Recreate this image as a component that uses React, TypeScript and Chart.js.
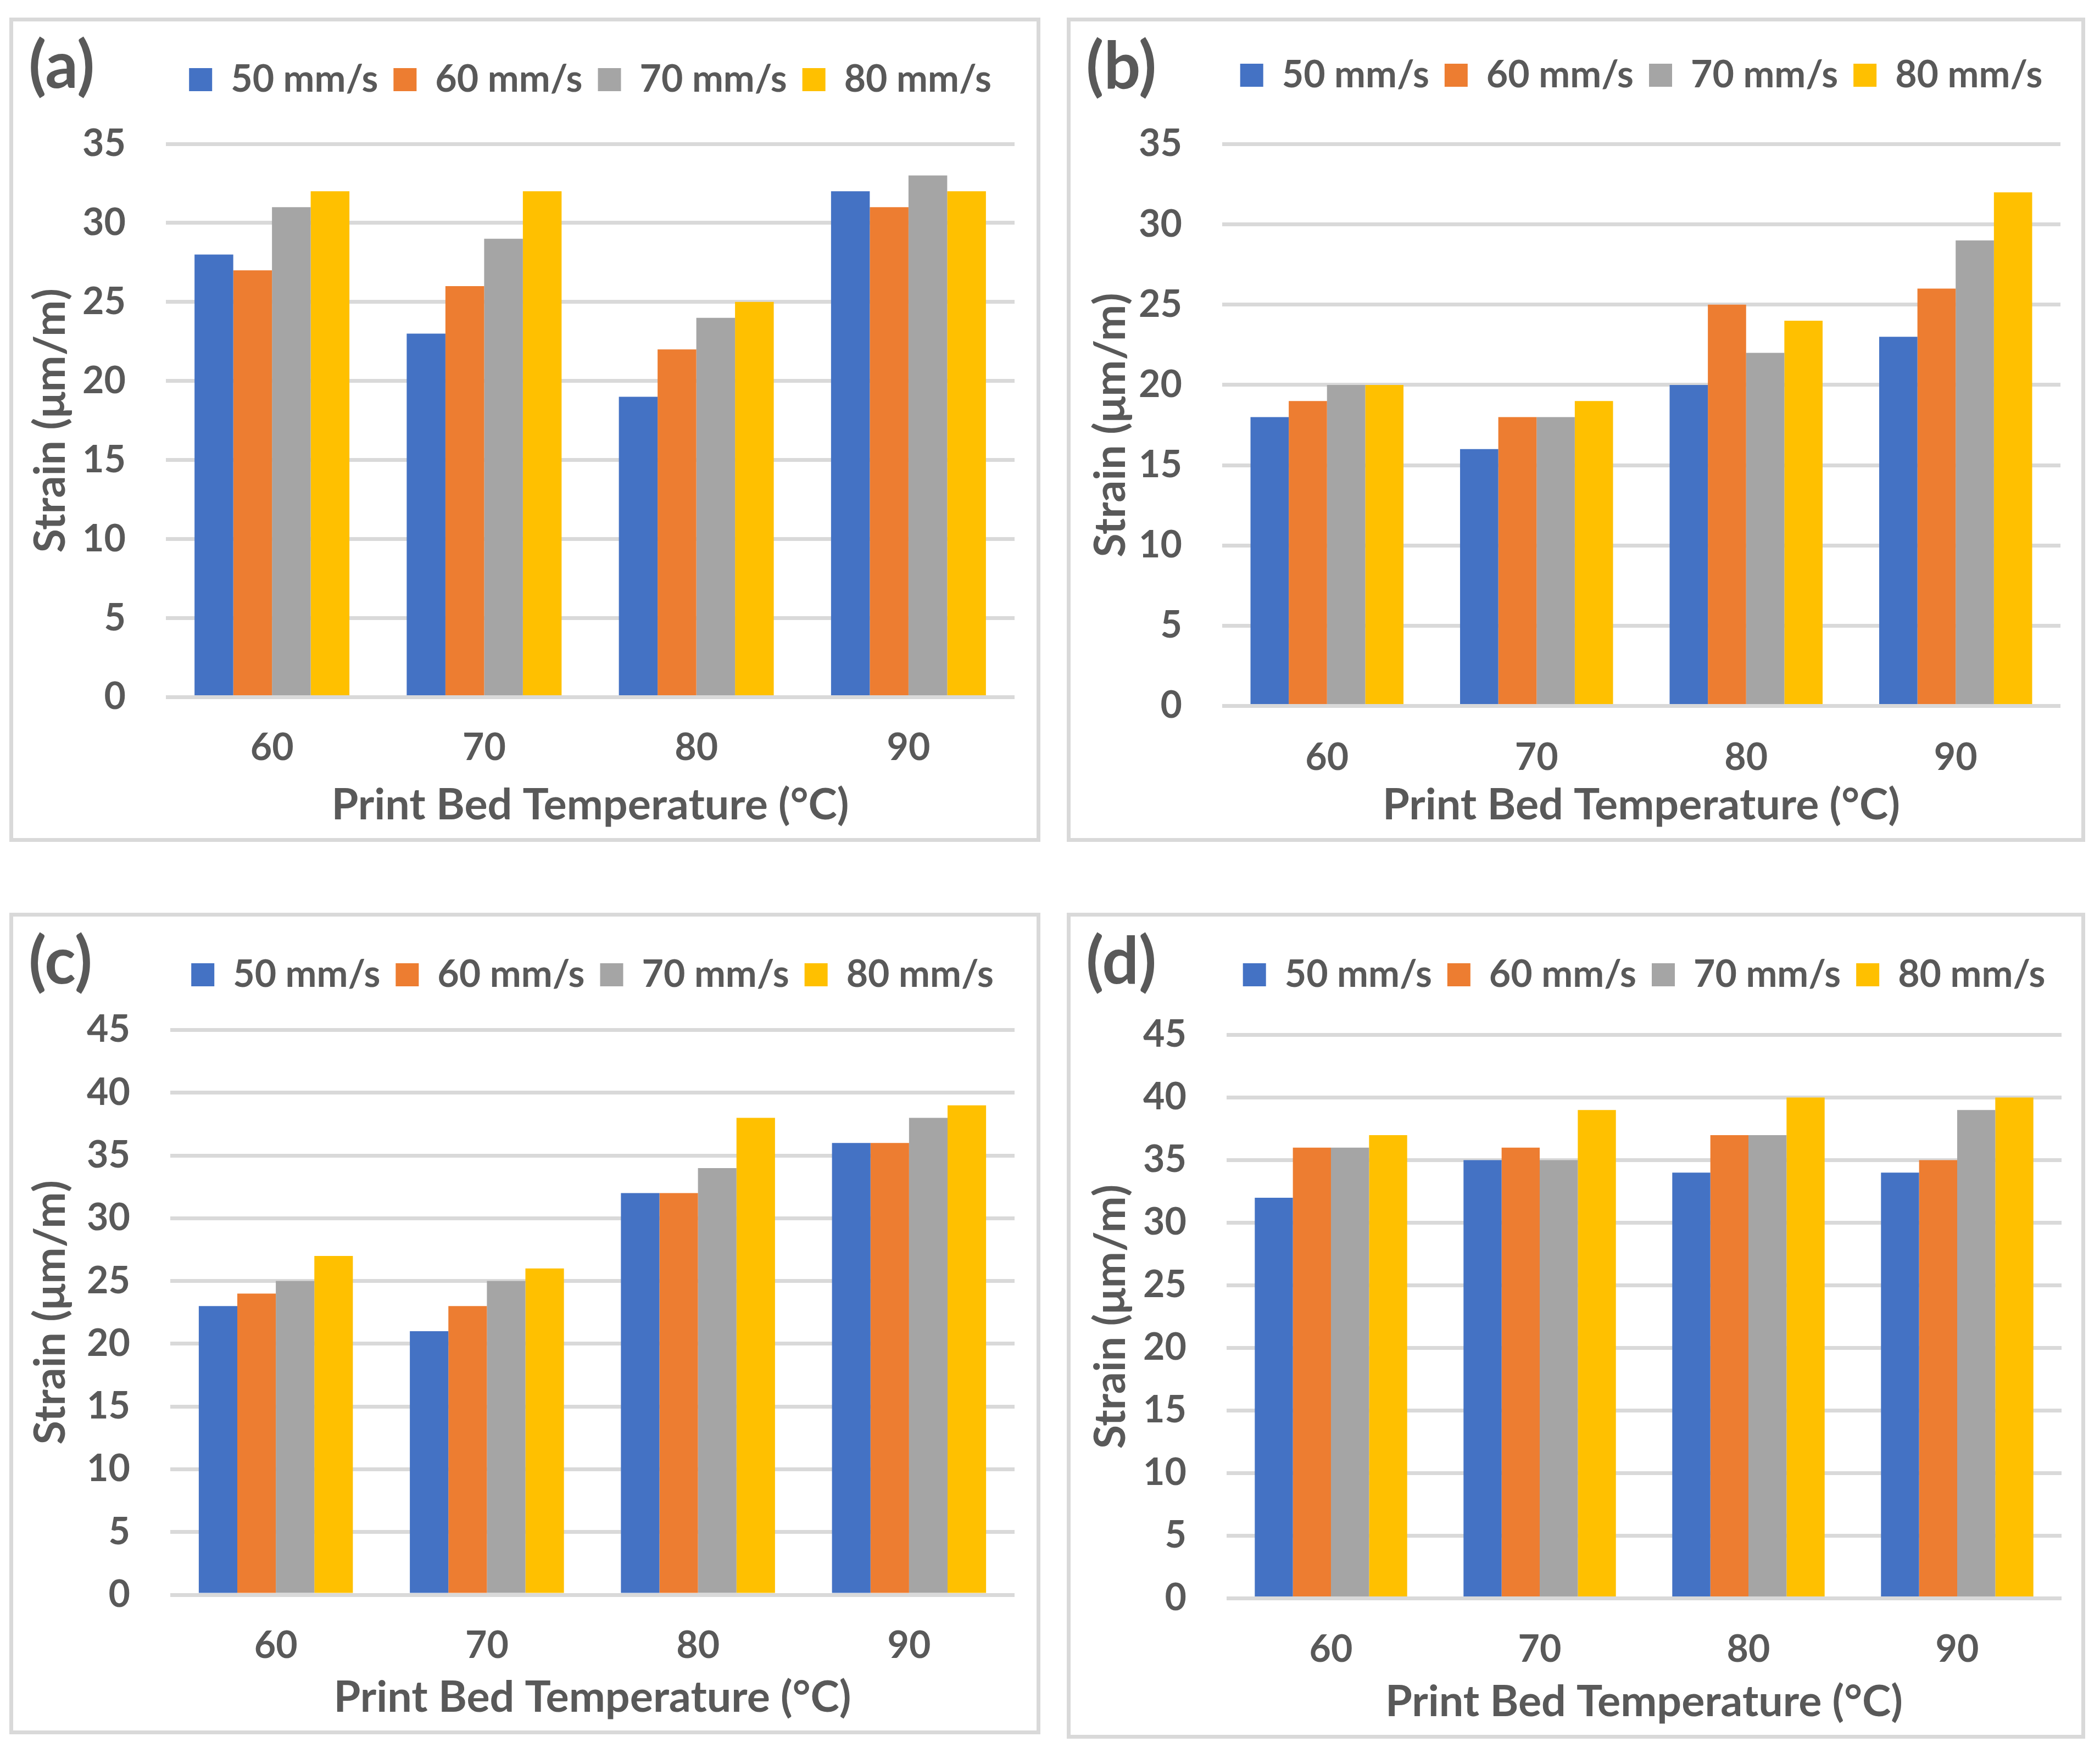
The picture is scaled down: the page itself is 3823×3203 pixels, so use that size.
import React, { useEffect, useRef } from 'react';
import { Chart, registerables } from 'chart.js';

Chart.register(...registerables);

// ---------- data ----------
const categories = ['60', '70', '80', '90'];
const seriesNames = ['50 mm/s', '60 mm/s', '70 mm/s', '80 mm/s'];
const seriesColors = ['#4472C4', '#ED7D31', '#A5A5A5', '#FFC000'];

// (a)
const a50 = [28, 23, 19, 32];
const a60 = [27, 26, 22, 31];
const a70 = [31, 29, 24, 33];
const a80 = [32, 32, 25, 32];
// (b)
const b50 = [18, 16, 20, 23];
const b60 = [19, 18, 25, 26];
const b70 = [20, 18, 22, 29];
const b80 = [20, 19, 24, 32];
// (c)
const c50 = [23, 21, 32, 36];
const c60 = [24, 23, 32, 36];
const c70 = [25, 25, 34, 38];
const c80 = [27, 26, 38, 39];
// (d)
const d50 = [32, 35, 34, 34];
const d60 = [36, 36, 37, 35];
const d70 = [36, 35, 37, 39];
const d80 = [37, 39, 40, 40];

const yMaxAB = 35;
const yMaxCD = 45;
const yStep = 5;

const panelLabels = ['(a)', '(b)', '(c)', '(d)'];
const xTitle = 'Print Bed Temperature (°C)';
const yTitle = 'Strain (μm/m)';

// ---------- styling ----------
const FONT = "Lato, 'Noto Sans', sans-serif";
const TEXT = '#595959';
const GRID = '#D9D9D9';
const BORDER = 7;
const TICK_SIZE = 68;
const TITLE_SIZE = 79;
const LABEL_SIZE = 118;
const LEGEND_PAD = 28;
const BOX = 42;

type Geo = {
  left: number; top: number; W: number; H: number;
  plotL: number; plotR: number; plotT: number; plotB: number;
  boxTop: number; xTickMid: number; xTitleMid: number; yTitleX: number;
  labelX: number; labelBase: number;
};

const geoA: Geo = { left: 17, top: 32, W: 1863, H: 1487, plotL: 278, plotR: 1823, plotT: 223, plotB: 1230.5, boxTop: 85, xTickMid: 1325, xTitleMid: 1428, yTitleX: 69, labelX: 28, labelBase: 121 };
const geoB: Geo = { left: 1942, top: 32, W: 1840, H: 1487, plotL: 276, plotR: 1802, plotT: 223.5, plotB: 1246.5, boxTop: 77, xTickMid: 1343, xTitleMid: 1427.5, yTitleX: 74, labelX: 28, labelBase: 122 };
const geoC: Geo = { left: 17, top: 1662, W: 1863, H: 1482, plotL: 286, plotR: 1823, plotT: 206.5, plotB: 1235, boxTop: 85, xTickMid: 1330, xTitleMid: 1423, yTitleX: 69, labelX: 28, labelBase: 122 };
const geoD: Geo = { left: 1942, top: 1662, W: 1840, H: 1490, plotL: 284, plotR: 1804, plotT: 215.5, plotB: 1241.5, boxTop: 85, xTickMid: 1337, xTitleMid: 1430.5, yTitleX: 74, labelX: 28, labelBase: 122 };

function Panel({ label, series, yMax, geo }: { label: string; series: number[][]; yMax: number; geo: Geo }) {
  const ref = useRef<HTMLCanvasElement | null>(null);

  useEffect(() => {
    const canvas = ref.current;
    if (!canvas) return;
    const padTop = geo.boxTop - (LEGEND_PAD + (TICK_SIZE - BOX) / 2);
    const legendH = TICK_SIZE + LEGEND_PAD + 10;
    const spacer = geo.plotT - padTop - legendH;
    const titleLH = TITLE_SIZE * 1.2;
    const tickLH = TICK_SIZE * 1.2;

    const labelPlugin = {
      id: 'panelLabel',
      afterDraw(chart: any) {
        const ctx = chart.ctx;
        ctx.save();
        ctx.font = `bold ${LABEL_SIZE}px ${FONT}`;
        ctx.fillStyle = TEXT;
        ctx.textAlign = 'left';
        ctx.textBaseline = 'alphabetic';
        ctx.fillText(label, geo.labelX, geo.labelBase);
        ctx.restore();
      },
    };

    const chart = new Chart(canvas, {
      type: 'bar',
      data: {
        labels: categories,
        datasets: series.map((vals, i) => ({
          label: seriesNames[i],
          data: vals,
          backgroundColor: seriesColors[i],
          borderWidth: 0,
          categoryPercentage: 0.73,
          barPercentage: 1.0,
        })),
      },
      options: {
        animation: false,
        responsive: false,
        devicePixelRatio: 1,
        layout: {
          padding: { left: 10, right: geo.W - geo.plotR, top: padTop, bottom: 0 },
        },
        plugins: {
          tooltip: { enabled: false },
          legend: {
            display: true,
            position: 'top',
            fullSize: false,
            align: 'center',
            labels: {
              boxWidth: BOX,
              boxHeight: BOX,
              padding: LEGEND_PAD,
              color: TEXT,
              font: { family: FONT, size: TICK_SIZE, weight: 'bold' },
            },
          },
          title: {
            display: true,
            text: '',
            position: 'top',
            weight: 500,
            padding: 0,
            font: { family: FONT, size: spacer, lineHeight: 1 },
          },
        },
        scales: {
          x: {
            type: 'category',
            grid: { display: false, drawTicks: false },
            border: { display: false },
            ticks: {
              color: TEXT,
              padding: geo.xTickMid - geo.plotB - tickLH / 2 - 2,
              font: { family: FONT, size: TICK_SIZE, weight: 'bold', lineHeight: 1.2 },
            },
            title: {
              display: true,
              text: xTitle,
              color: TEXT,
              padding: { top: 0, bottom: geo.H - titleLH / 2 - geo.xTitleMid },
              font: { family: FONT, size: TITLE_SIZE, weight: 'bold', lineHeight: 1.2 },
            },
            afterFit: (s: any) => { s.height = geo.H - geo.plotB; },
          },
          y: {
            type: 'linear',
            min: 0,
            max: yMax,
            grid: { color: GRID, lineWidth: BORDER, drawTicks: false },
            border: { display: false },
            ticks: {
              stepSize: yStep,
              color: TEXT,
              padding: 73,
              font: { family: FONT, size: TICK_SIZE, weight: 'bold', lineHeight: 1.2 },
            },
            title: {
              display: true,
              text: yTitle,
              color: TEXT,
              padding: { top: geo.yTitleX - 10 - titleLH / 2, bottom: 0 },
              font: { family: FONT, size: TITLE_SIZE, weight: 'bold', lineHeight: 1.2 },
            },
            afterFit: (s: any) => { s.width = geo.plotL - 10; },
          },
        },
      } as any,
      plugins: [labelPlugin],
    });
    return () => chart.destroy();
  }, [label, series, yMax, geo]);

  return (
    <div
      style={{
        position: 'absolute',
        left: geo.left,
        top: geo.top,
        width: geo.W + 2 * BORDER,
        height: geo.H + 2 * BORDER,
        boxSizing: 'border-box',
        border: `${BORDER}px solid ${GRID}`,
        background: '#FFFFFF',
      }}
    >
      <canvas
        ref={ref}
        width={geo.W}
        height={geo.H}
        style={{ display: 'block', width: geo.W, height: geo.H }}
      />
    </div>
  );
}

const seriesA = [a50, a60, a70, a80];
const seriesB = [b50, b60, b70, b80];
const seriesC = [c50, c60, c70, c80];
const seriesD = [d50, d60, d70, d80];

export default function App() {
  return (
    <div style={{ position: 'absolute', left: 0, top: 0, width: 3823, height: 3203, background: '#FFFFFF', overflow: 'hidden' }}>
      <Panel label={panelLabels[0]} series={seriesA} yMax={yMaxAB} geo={geoA} />
      <Panel label={panelLabels[1]} series={seriesB} yMax={yMaxAB} geo={geoB} />
      <Panel label={panelLabels[2]} series={seriesC} yMax={yMaxCD} geo={geoC} />
      <Panel label={panelLabels[3]} series={seriesD} yMax={yMaxCD} geo={geoD} />
    </div>
  );
}
